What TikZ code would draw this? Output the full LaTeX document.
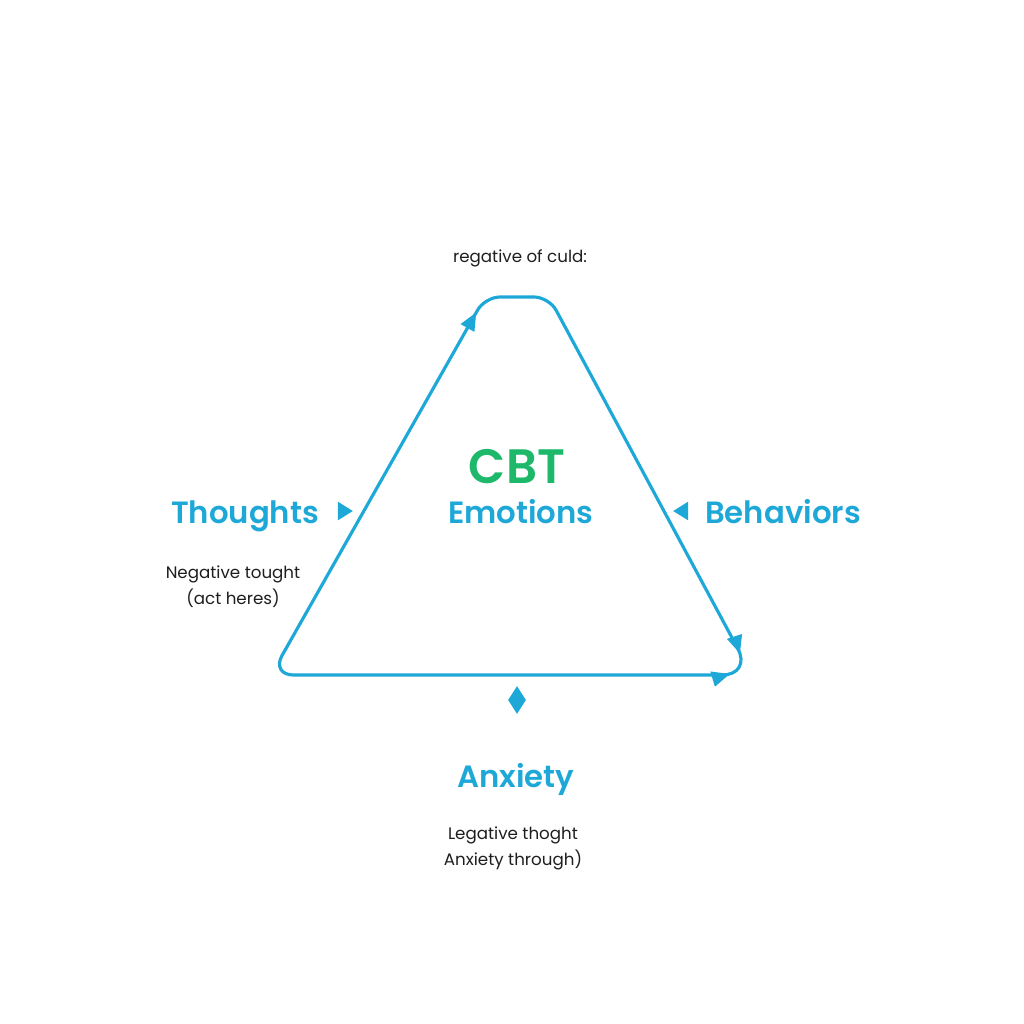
\documentclass[tikz,border=0pt]{standalone}
\usepackage{fontspec}
\setmainfont{Poppins}
\newfontfamily\headfont{Poppins SemiBold}
\usepackage{xcolor}
\usepackage{tikz}
\usetikzlibrary{shapes.geometric, arrows.meta, decorations.markings}
\definecolor{loopblue}{RGB}{30,168,216}
\definecolor{cbtgreen}{RGB}{29,184,106}
\definecolor{notegray}{RGB}{30,30,30}

\begin{document}
\begin{tikzpicture}[
    x=0.02cm, y=-0.02cm,
    every node/.style={align=center, inner sep=0pt},
    heading/.style={font=\fontsize{17.5}{20}\selectfont\headfont, text=loopblue, anchor=base},
    title/.style={font=\fontsize{27.5}{30}\selectfont\headfont, text=cbtgreen, anchor=base},
    note/.style={font=\fontsize{9.5}{14.8}\selectfont, text=notegray},
    pointer/.style={isosceles triangle, isosceles triangle apex angle=64, fill=loopblue, minimum height=0.3cm, minimum width=0.32cm},
    gem/.style={diamond, aspect=0.64, fill=loopblue, minimum width=0.36cm, minimum height=0.56cm},
    cycle/.style={draw=loopblue, line width=1.8pt, line join=round,
        decoration={markings,
            mark=at position 12.0cm with {\arrow{Triangle[length=0.36cm, width=0.3cm]}},
            mark=at position 21.6cm with {\arrow{Triangle[length=0.36cm, width=0.3cm]}},
            mark=at position -5.2cm with {\arrowreversed{Triangle[length=0.36cm, width=0.3cm]}}},
        postaction={decorate}}
]
\useasboundingbox (0,0) rectangle (1024,1024);

% Corners of the loop
\coordinate (s) at (500,675);
\coordinate (bl) at (271,675);
\coordinate (tl) at (485,297);
\coordinate (tr) at (549,297);
\coordinate (br) at (752,675);

% Loop
\draw[cycle] (s) [rounded corners=0.45cm] -- (bl) [rounded corners=0.3cm] -- (tl) -- (tr) [rounded corners=0.6cm] -- (br) -- cycle;

% Labels
\node[note] (top) at (520,258) {regative of culd:};
\node[title] (cbt) at (517,483) {CBT};
\node[heading] (emotions) at (521,523) {Emotions};
\node[heading] (thoughts) at (245,523) {Thoughts};
\node[heading] (behaviors) at (783,523) {Behaviors};
\node[heading] (anxiety) at (516,787) {Anxiety};

% Notes
\node[note] (thoughtnote) at (233,587) {Negative tought\\(act heres)};
\node[note] (anxietynote) at (513,848) {Legative thoght\\Anxiety through)};

% Markers
\node[pointer] (tpoint) at (343,511) {};
\node[pointer, shape border rotate=180] (bpoint) at (683,511) {};
\node[gem] (apoint) at (517,700) {};

\end{tikzpicture}
\end{document}
